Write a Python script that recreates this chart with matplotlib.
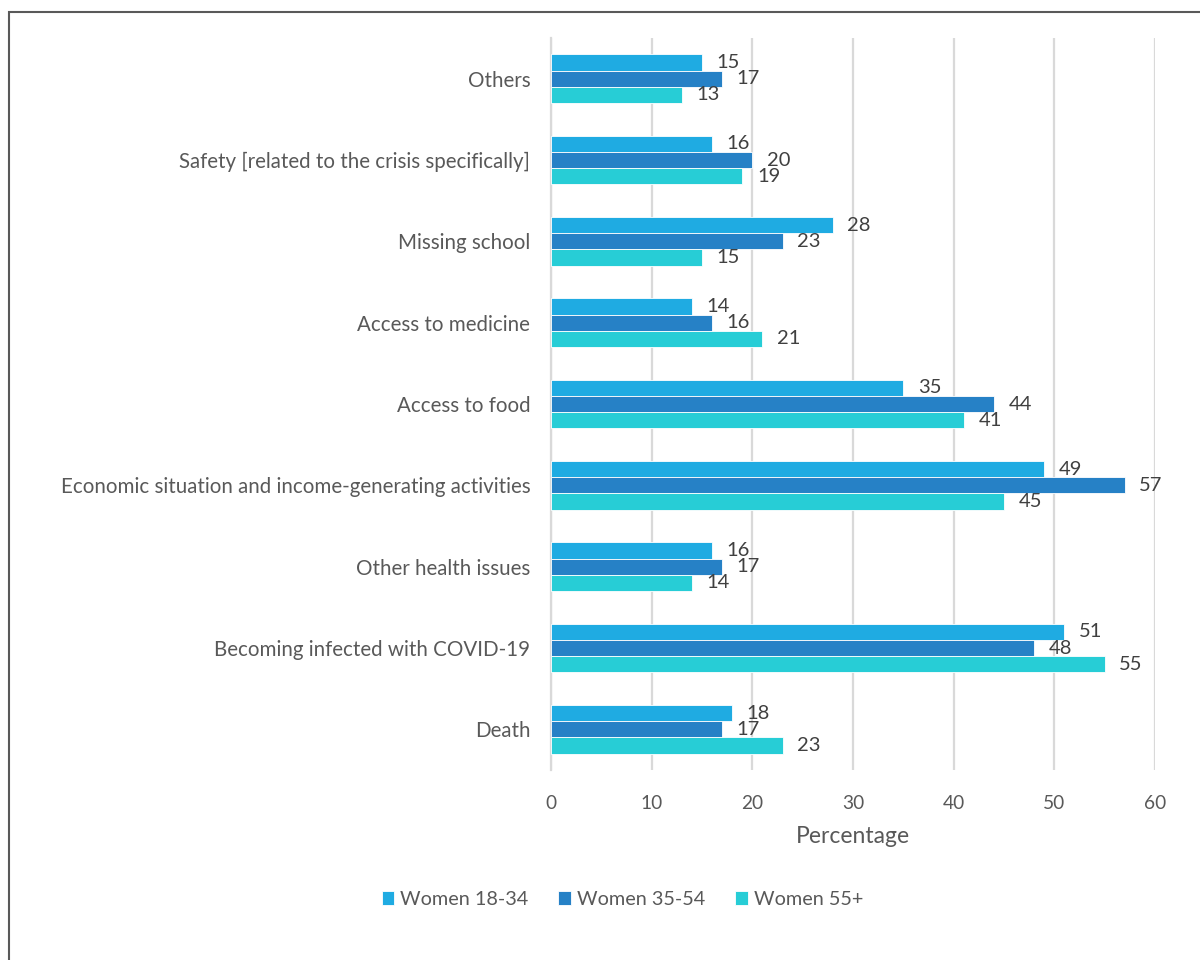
import matplotlib
matplotlib.use("Agg")
import matplotlib.pyplot as plt
from matplotlib.patches import Rectangle
import numpy as np

plt.rcParams['font.family'] = ['Lato', 'DejaVu Sans']

categories = [
    "Death",
    "Becoming infected with COVID-19",
    "Other health issues",
    "Economic situation and income-generating activities",
    "Access to food",
    "Access to medicine",
    "Missing school",
    "Safety [related to the crisis specifically]",
    "Others",
]
series_names = ["Women 18-34", "Women 35-54", "Women 55+"]
women_18_34 = [18, 51, 16, 49, 35, 14, 28, 16, 15]
women_35_54 = [17, 48, 17, 57, 44, 16, 23, 20, 17]
women_55_plus = [23, 55, 14, 45, 41, 21, 15, 19, 13]
x_ticks = [0, 10, 20, 30, 40, 50, 60]

colors = ["#1FABE2", "#2681C6", "#27CDD6"]
series = [women_18_34, women_35_54, women_55_plus]
offsets = [0.2, 0.0, -0.2]
bar_h = 0.2

fig = plt.figure(figsize=(12, 9.6), dpi=100)
ax = fig.add_axes([0.4592, 0.1979, 0.5033, 0.7625])

y = np.arange(len(categories))
for vals, col, off, name in zip(series, colors, offsets, series_names):
    bars = ax.barh(y + off, vals, height=bar_h, color=col, label=name,
                   edgecolor="white", linewidth=0.6, zorder=3)
    for b, v in zip(bars, vals):
        ax.annotate(f"{v}", xy=(b.get_width(), b.get_y() + b.get_height() / 2),
                    xytext=(10.5, 0), textcoords="offset points",
                    ha="left", va="center", fontsize=14.5, color="#404040")

ax.set_xlim(0, 60)
ax.set_ylim(-0.5, len(categories) - 0.5)
ax.set_xticks(x_ticks)
ax.set_yticks(y)
ax.set_yticklabels(categories)
ax.tick_params(axis="both", length=0, labelcolor="#595959")
ax.tick_params(axis="y", pad=15, labelsize=14.8)
ax.tick_params(axis="x", pad=18, labelsize=13.8)
ax.xaxis.grid(True, color="#D9D9D9", linewidth=1.6, zorder=0)
ax.set_axisbelow(True)
for s in ["top", "right", "bottom"]:
    ax.spines[s].set_visible(False)
ax.spines["left"].set_color("#D9D9D9")
ax.spines["left"].set_linewidth(1.6)
ax.set_xlabel("Percentage", fontsize=16.5, color="#595959", labelpad=10)

handles, labels = ax.get_legend_handles_labels()
leg = fig.legend(handles, labels, loc="center", bbox_to_anchor=(0.5188, 0.063),
                 ncol=3, frameon=False, fontsize=14.3, handlelength=0.65,
                 handleheight=0.65, handletextpad=0.3, columnspacing=1.5)
for t in leg.get_texts():
    t.set_color("#595959")

fig.patches.append(Rectangle((9 / 1200, -0.1), 1.2, 1 - 12 / 960 + 0.1,
                             transform=fig.transFigure, fill=False,
                             edgecolor="#595959", linewidth=1.5))

fig.savefig("out.png", dpi=100, facecolor="white")
